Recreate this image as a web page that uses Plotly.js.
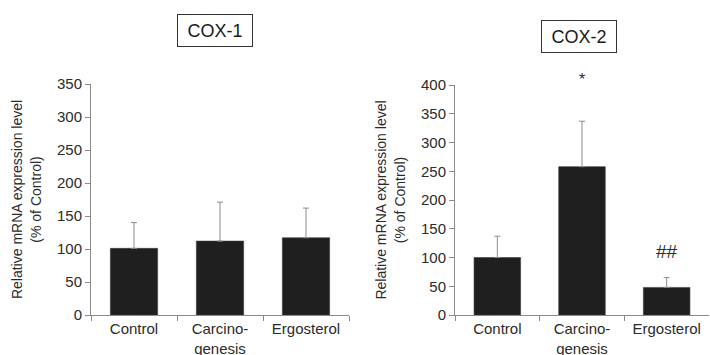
<!DOCTYPE html>
<html>
<head>
<meta charset="utf-8">
<script src="https://cdn.plot.ly/plotly-3.0.1.min.js"></script>
<style>
  html, body { margin: 0; padding: 0; background: #fff; }
  #chart { width: 710px; height: 355px; }
</style>
</head>
<body>
<div id="chart"></div>
<script>
// Treatment groups and their axis labels
const categories = ['Control', 'Carcinogenesis', 'Ergosterol'];
const tickLabels = ['Control', 'Carcino-<br>genesis', 'Ergosterol'];

// COX-1 relative mRNA expression (% of Control): mean and upper SD
const cox1Mean = [101, 112, 117];
const cox1Err = [39, 59, 45];

// COX-2 relative mRNA expression (% of Control): mean and upper SD
const cox2Mean = [100, 258, 48];
const cox2Err = [37, 79, 17];

// Significance markers on COX-2
const cox2Marks = ['', '*', '##'];

const FONT = 'Liberation Sans, Arial, sans-serif';
const TEXT = '#2b2b2b';
const AXIS = '#8a8a8a';
const BAR = '#1f1f1f';

function barTrace(mean, err, xa, ya) {
  return {
    type: 'bar',
    x: categories,
    y: mean,
    xaxis: xa,
    yaxis: ya,
    marker: { color: BAR, line: { color: '#3a3a3a', width: 0.6 } },
    error_y: {
      type: 'data',
      symmetric: false,
      array: err,
      arrayminus: err.map(() => 0),
      color: '#8c8c8c',
      thickness: 1,
      width: 3
    },
    hoverinfo: 'skip',
    showlegend: false
  };
}

const data = [
  barTrace(cox1Mean, cox1Err, 'x', 'y'),
  barTrace(cox2Mean, cox2Err, 'x2', 'y2')
];

function xAxis(domain, anchor) {
  return {
    domain: domain,
    anchor: anchor,
    type: 'category',
    tickmode: 'array',
    tickvals: categories,
    ticktext: tickLabels,
    tickson: 'boundaries',
    ticks: 'outside',
    ticklen: 5,
    tickcolor: AXIS,
    showline: true,
    linecolor: AXIS,
    linewidth: 1,
    showgrid: false,
    zeroline: false,
    tickfont: { family: FONT, size: 15, color: TEXT },
    fixedrange: true
  };
}

function yAxis(domain, anchor, max) {
  return {
    domain: domain,
    anchor: anchor,
    range: [0, max],
    dtick: 50,
    ticks: 'outside',
    ticklen: 5,
    tickcolor: AXIS,
    showline: true,
    linecolor: AXIS,
    linewidth: 1,
    showgrid: false,
    zeroline: false,
    tickfont: { family: FONT, size: 15, color: TEXT },
    title: {
      text: 'Relative mRNA expression level<br>(% of Control)',
      font: { family: FONT, size: 14, color: TEXT },
      standoff: 12
    },
    automargin: false,
    fixedrange: true
  };
}

const boxStyle = {
  xref: 'paper', yref: 'paper',
  xanchor: 'center', yanchor: 'middle',
  showarrow: false,
  font: { family: FONT, size: 18, color: '#1a1a1a' },
  bordercolor: '#333',
  borderwidth: 1,
  borderpad: 2,
  bgcolor: '#fff',
  width: 70,
  height: 27
};

const annotations = [
  Object.assign({}, boxStyle, { text: 'COX-1', x: 215 / 710, y: 1 - 31 / 355 }),
  Object.assign({}, boxStyle, { text: 'COX-2', x: 578.5 / 710, y: 1 - 37 / 355 }),
  {
    text: cox2Marks[1], xref: 'x2', x: categories[1], yref: 'paper', y: 1 - 79 / 355,
    xanchor: 'center', yanchor: 'middle',
    showarrow: false, font: { family: FONT, size: 16, color: TEXT }
  },
  {
    text: cox2Marks[2], xref: 'x2', x: categories[2], yref: 'y2', y: cox2Mean[2] + cox2Err[2],
    xanchor: 'center', yanchor: 'bottom', yshift: 14, showarrow: false,
    font: { family: FONT, size: 19, color: TEXT }
  }
];

const layout = {
  width: 710,
  height: 355,
  margin: { l: 0, r: 0, t: 0, b: 0 },
  paper_bgcolor: '#fff',
  plot_bgcolor: '#fff',
  bargap: 0.45,
  xaxis: xAxis([91 / 710, 349 / 710], 'y'),
  yaxis: yAxis([1 - 315 / 355, 1 - 84 / 355], 'x', 350),
  xaxis2: xAxis([455 / 710, 709 / 710], 'y2'),
  yaxis2: yAxis([1 - 315 / 355, 1 - 85 / 355], 'x2', 400),
  annotations: annotations
};

Plotly.newPlot('chart', data, layout, { staticPlot: true, displayModeBar: false });
</script>
</body>
</html>
